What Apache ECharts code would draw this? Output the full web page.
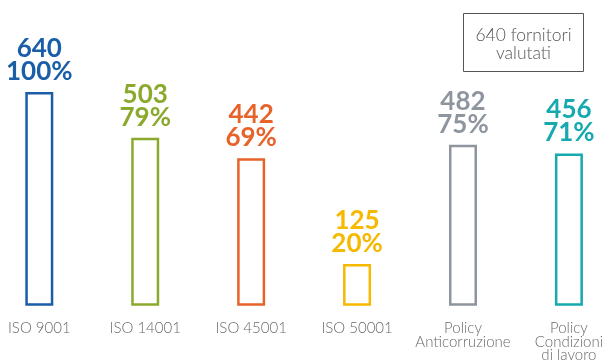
<!DOCTYPE html>
<html>
<head>
<meta charset="utf-8">
<script src="https://cdn.jsdelivr.net/npm/echarts@6/dist/echarts.min.js"></script>
<style>html,body{margin:0;padding:0;background:#fff}#c{width:606px;height:363px}</style>
</head>
<body>
<div id="c"></div>
<script>
var categories = ['ISO 9001', 'ISO 14001', 'ISO 45001', 'ISO 50001', 'Policy\nAnticorruzione', 'Policy\nCondizioni\ndi lavoro'];
var counts = [640, 503, 442, 125, 482, 456];
var percents = ['100%', '79%', '69%', '20%', '75%', '71%'];
var colors = ['#1a5ea8', '#8aaa2e', '#e8632a', '#f6b900', '#8e959e', '#16a9b0'];
var totalText = '640 fornitori\nvalutati';

var chart = echarts.init(document.getElementById('c'));
var data = counts.map(function (v, i) {
  return {
    value: [i, v],
    itemStyle: { color: '#fff', borderColor: colors[i], borderWidth: 2.5 },
    label: { color: colors[i] }
  };
});
var idx = categories.map(function (c, i) { return i; });
chart.setOption({
  animation: false,
  grid: { left: 0, right: 0, top: 92, bottom: 56 },
  xAxis: {
    type: 'value',
    min: -0.371,
    max: 5.324,
    splitLine: { show: false },
    axisLine: { show: false },
    axisTick: { show: false },
    axisLabel: {
      customValues: idx,
      formatter: function (v) { return categories[Math.round(v)]; },
      color: '#6a6a6a',
      fontFamily: 'Lato',
      fontWeight: 300,
      fontSize: 15,
      lineHeight: 13.5,
      margin: 16,
      verticalAlign: 'top'
    }
  },
  yAxis: { type: 'value', min: 0, max: 640, show: false, splitLine: { show: false } },
  series: [{
    type: 'bar',
    barWidth: 28,
    data: data,
    label: {
      show: true,
      position: 'top',
      distance: 9,
      fontFamily: 'Lato',
      fontWeight: 'bold',
      fontSize: 26,
      lineHeight: 23,
      formatter: function (p) { return counts[p.dataIndex] + '\n' + percents[p.dataIndex]; }
    }
  }],
  graphic: [{
    type: 'group',
    left: 463,
    top: 13,
    children: [
      { type: 'rect', shape: { x: 0, y: 0, width: 120, height: 58 }, style: { fill: '#fff', stroke: '#555', lineWidth: 1 } },
      { type: 'text', x: 60, y: 31, style: { text: totalText, fill: '#555', font: '300 17.5px Lato', align: 'center', verticalAlign: 'middle', lineHeight: 18 } }
    ]
  }]
});
</script>
</body>
</html>
